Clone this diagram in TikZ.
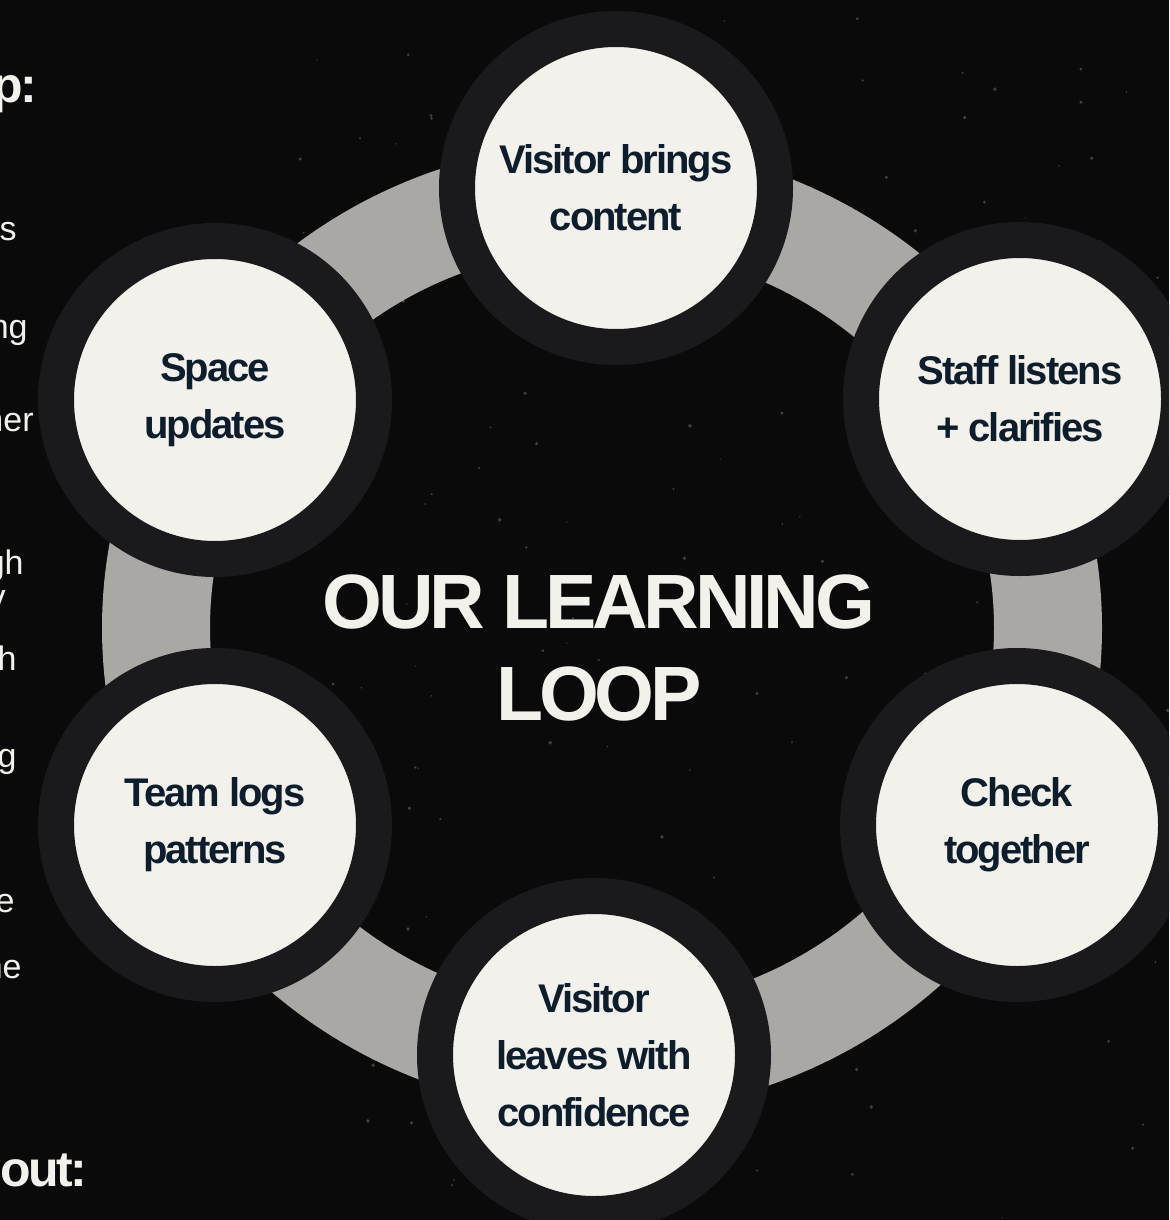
\documentclass[tikz,border=0pt]{standalone}
\usepackage{fontspec}
\setmainfont{Liberation Sans}
\newfontfamily\labelfont{Liberation Sans}[LetterSpace=-5]
\newfontfamily\titlefont{Liberation Sans}[LetterSpace=-5.5]
\definecolor{bg}{HTML}{0A0A0A}
\definecolor{ringgray}{HTML}{A9A8A4}
\definecolor{ringdark}{HTML}{1A1A1D}
\definecolor{cream}{HTML}{F3F1EB}
\definecolor{navy}{HTML}{0E1D2C}
\tikzset{
  stage/.style={circle, fill=cream, draw=ringdark, line width=18pt,
    minimum size=159pt, inner sep=0pt, align=center, text=navy,
    font=\labelfont\bfseries\fontsize{20}{28.5}\selectfont},
  titletext/.style={align=center, text=cream, inner sep=0pt,
    font=\titlefont\bfseries\fontsize{38.5}{46}\selectfont},
  sidetext/.style={anchor=base east, text=cream, inner sep=0pt,
    font=\fontsize{17}{20}\selectfont},
  sidehead/.style={anchor=base east, text=cream, inner sep=0pt,
    font=\labelfont\bfseries\fontsize{25}{28}\selectfont},
  speck/.style={white, opacity=0.22}
}
\begin{document}
\begin{tikzpicture}[x=0.5pt, y=-0.5pt]
\useasboundingbox (0,0) rectangle (1169,1220);
\clip (0,0) rectangle (1169,1220);
\fill[bg] (0,0) rectangle (1169,1220);
% texture specks
\pgfmathsetseed{7}
\foreach \i in {1,...,160}{
  \pgfmathsetmacro{\sx}{300+rnd*869}
  \pgfmathsetmacro{\sy}{rnd*1220}
  \pgfmathsetmacro{\ss}{0.3+rnd*0.7}
  \fill[speck] (\sx,\sy) circle (\ss pt);
}
% grey loop ring
\fill[ringgray, even odd rule]
  (602,628) ellipse [x radius=250pt, y radius=242.5pt]
  (602,628) ellipse [x radius=196pt, y radius=190pt];
% stages
\node[stage] (s1) at (616,188) {Visitor brings\\content};
\node[stage] (s2) at (1020,399) {Staff listens\\+ clarifies};
\node[stage] (s3) at (1017,825) {Check\\together};
\node[stage] (s4) at (594,1055) {Visitor\\leaves with\\confidence};
\node[stage] (s5) at (215,825) {Team logs\\patterns};
\node[stage] (s6) at (215,400) {Space\\updates};
% title
\node[titletext] (title) at (599,648) {OUR LEARNING\\LOOP};
% cut-off text at the left edge
\node[sidehead] (h1) at (38,103) {p:};
\node[sidetext] (t1) at (17,240) {s};
\node[sidetext] (t2) at (28,338) {ng};
\node[sidetext] (t3) at (34,431) {her};
\node[sidetext] (t4) at (24,574) {gh};
\node[sidetext] (t5) at (6,608) {v};
\node[sidetext] (t6) at (17,670) {h};
\node[sidetext] (t7) at (17,767) {g};
\node[sidetext] (t8) at (15,912) {e};
\node[sidetext] (t9) at (22,978) {ne};
\node[sidehead] (h2) at (88,1186) {out:};
\end{tikzpicture}
\end{document}
